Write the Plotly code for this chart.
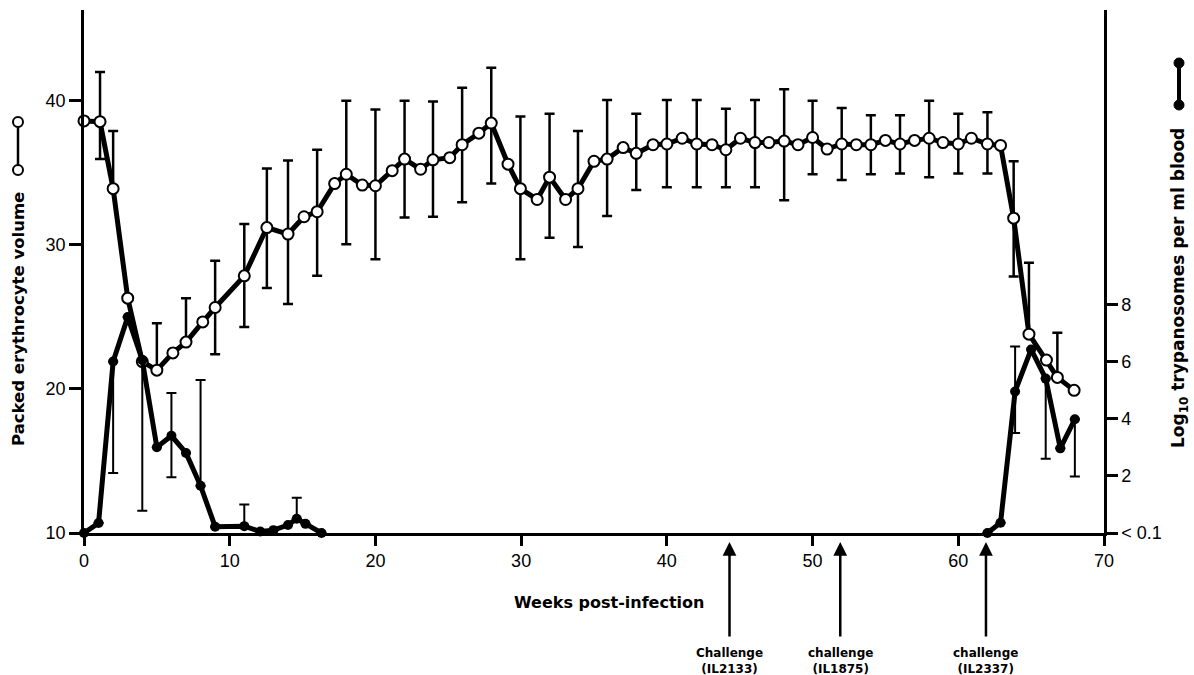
import plotly.graph_objects as go

# ---------------- data ----------------
weeks_pcv = [0.0, 1.1, 2.0, 3.0, 4.0, 5.0, 6.1, 7.0, 8.15, 9.0, 11.0, 12.55, 14.0, 15.1, 16.0,
             17.2, 18.0, 19.1, 20.0, 21.15, 22.0, 23.1, 23.95, 25.1, 25.95, 27.1, 27.95, 29.1,
             29.95, 31.1, 31.95, 33.05, 33.9, 35.0, 35.9, 37.0, 37.9, 39.05, 40.0, 41.05, 42.05,
             43.1, 44.05, 45.05, 46.05, 47.0, 48.05, 49.0, 50.0, 51.0, 52.0, 53.0, 54.0, 55.0,
             56.0, 57.0, 58.0, 58.95, 60.0, 60.9, 62.0, 62.9, 63.8, 64.85, 66.05, 66.8, 67.95]
pcv = [38.6, 38.55, 33.9, 26.3, 21.9, 21.3, 22.5, 23.25, 24.65, 25.65, 27.85, 31.2, 30.75, 31.95, 32.3,
       34.25, 34.9, 34.15, 34.1, 35.15, 35.95, 35.25, 35.9, 36.05, 36.95, 37.75, 38.45, 35.6,
       33.9, 33.15, 34.7, 33.15, 33.9, 35.8, 35.95, 36.75, 36.35, 36.95, 37.0, 37.4, 37.0,
       36.95, 36.6, 37.4, 37.1, 37.1, 37.2, 36.95, 37.45, 36.65, 37.0, 36.95, 36.95, 37.25,
       37.0, 37.25, 37.4, 37.1, 37.0, 37.4, 37.0, 36.9, 31.85, 23.8, 22.0, 20.8, 19.9]
pcv_err_plus = [0, 3.45, 4.0, 0, 0, 3.25, 0, 3.05, 0, 3.25, 3.6, 4.1, 5.1, 0, 4.3,
                0, 5.1, 0, 5.3, 0, 4.05, 0, 4.05, 0, 3.95, 0, 3.85, 0,
                5.0, 0, 4.4, 0, 4.0, 0, 4.1, 0, 2.75, 0, 3.05, 0, 3.05,
                0, 2.85, 0, 2.95, 0, 3.6, 0, 2.55, 0, 2.5, 0, 2.05, 0,
                2.0, 0, 2.6, 0, 2.1, 0, 2.2, 0, 3.95, 4.95, 0, 3.1, 0]
pcv_err_minus = [0, 2.6, 0, 0, 0, 0, 0, 0, 0, 3.25, 3.55, 4.2, 4.85, 0, 4.45,
                 0, 4.85, 0, 5.1, 0, 4.05, 0, 3.95, 0, 4.0, 0, 4.2, 0,
                 4.9, 0, 4.2, 0, 4.05, 0, 3.95, 0, 2.55, 0, 3.0, 0, 3.0,
                 0, 2.6, 0, 3.1, 0, 4.1, 0, 2.55, 0, 2.5, 0, 2.05, 0,
                 2.05, 0, 2.7, 0, 2.05, 0, 2.05, 0, 4.05, 0, 0, 0, 0]

weeks_tryp = [0, 1, 2, 3, 4, 5, 6, 7, 8, 9, 11, 12.1, 13, 14, 14.6, 15.2, 16.3, None,
              62, 62.9, 63.9, 65, 66, 67, 68]
tryp = [0, 0.35, 6.0, 7.55, 6.05, 3.0, 3.4, 2.8, 1.65, 0.22, 0.24, 0.05, 0.1, 0.28, 0.5, 0.32, 0, None,
        0, 0.36, 4.95, 6.42, 5.4, 2.96, 3.98]
tryp_err_plus = [0, 0, 0, 0, 0, 0, 1.5, 0, 3.7, 0, 0.76, 0, 0, 0, 0.73, 0, 0, 0,
                 0, 0, 1.57, 0, 0, 0, 0]
tryp_err_minus = [0, 0, 3.9, 0, 5.27, 0, 1.45, 0, 0, 0, 0, 0, 0, 0, 0, 0, 0, 0,
                  0, 0, 1.45, 0, 2.8, 0, 2.0]

x_ticks = [0, 10, 20, 30, 40, 50, 60, 70]
pcv_ticks = [10, 20, 30, 40]
tryp_ticks = [0, 2, 4, 6, 8]
tryp_ticktext = ["< 0.1", "2", "4", "6", "8"]

challenge_weeks = [44.3, 51.9, 61.9]
challenge_labels = ["Challenge<br>(IL2133)", "challenge<br>(IL1875)", "challenge<br>(IL2337)"]

# ---------------- figure ----------------
FONT = "Liberation Sans"
BFONT = "DejaVu Sans"
L, R, T, B = 84, 90, 10, 142
W, H = 1194, 675
PW, PH = W - L - R, H - T - B


def px2x(px):
    return (px - L) / PW


def py2y(py):
    return (H - B - py) / PH


fig = go.Figure()

fig.add_trace(go.Scatter(
    x=weeks_pcv, y=pcv, mode="lines+markers", yaxis="y",
    line=dict(color="black", width=5),
    marker=dict(symbol="circle", size=11, color="white", line=dict(color="black", width=2)),
    error_y=dict(type="data", symmetric=False, array=pcv_err_plus, arrayminus=pcv_err_minus,
                 color="black", thickness=2.5, width=5),
    cliponaxis=False, showlegend=False, hoverinfo="x+y"))

fig.add_trace(go.Scatter(
    x=weeks_tryp, y=tryp, mode="lines+markers", yaxis="y2",
    line=dict(color="black", width=5),
    marker=dict(symbol="circle", size=10, color="black"),
    error_y=dict(type="data", symmetric=False, array=tryp_err_plus, arrayminus=tryp_err_minus,
                 color="black", thickness=2, width=5),
    connectgaps=False, cliponaxis=False, showlegend=False, hoverinfo="x+y"))

axis_common = dict(showline=True, linecolor="black", linewidth=2.5, showgrid=False, zeroline=False,
                   ticks="outside", tickcolor="black", tickwidth=2.5,
                   tickfont=dict(family=FONT, size=18, color="black"))

fig.update_layout(
    width=W, height=H,
    margin=dict(l=L, r=R, t=T, b=B, pad=0),
    paper_bgcolor="white", plot_bgcolor="white",
    xaxis=dict(range=[0, 70], tickvals=x_ticks, ticklen=10, **axis_common),
    yaxis=dict(range=[10, 46.3], tickvals=pcv_ticks, ticklen=12, **axis_common),
    yaxis2=dict(range=[0, 18.29], tickvals=tryp_ticks, ticktext=tryp_ticktext, ticklen=11,
                overlaying="y", side="right", **axis_common),
)

annotations = [
    dict(text="Weeks post-infection", xref="paper", yref="paper", x=px2x(609), y=py2y(602),
         xanchor="center", yanchor="middle", showarrow=False,
         font=dict(family=BFONT, size=16, color="black", weight="bold")),
    dict(text="Packed erythrocyte volume", xref="paper", yref="paper", x=px2x(18), y=py2y(319),
         xanchor="center", yanchor="middle", textangle=-90, showarrow=False,
         font=dict(family=BFONT, size=16.5, color="black", weight="bold")),
    dict(text="Log<sub>10</sub> trypanosomes per ml blood", xref="paper", yref="paper",
         x=px2x(1180), y=py2y(288), xanchor="center", yanchor="middle", textangle=-90,
         showarrow=False, font=dict(family=BFONT, size=17, color="black", weight="bold")),
]

for wk, lab in zip(challenge_weeks, challenge_labels):
    annotations.append(dict(text="", xref="x", yref="paper", x=wk, y=py2y(542),
                            ax=0, ay=96, axref="pixel", ayref="pixel", showarrow=True,
                            arrowhead=2, arrowsize=1.1, arrowwidth=2.5, arrowcolor="black"))
    annotations.append(dict(text=lab, xref="x", yref="paper", x=wk, y=py2y(661),
                            xanchor="center", yanchor="middle", showarrow=False,
                            font=dict(family=BFONT, size=12, color="black", weight="bold")))

fig.update_layout(annotations=annotations)

# legend symbols beside the axis titles
shapes = []
lx, rx = px2x(18), px2x(1179)
shapes.append(dict(type="line", xref="paper", yref="paper", x0=lx, x1=lx, y0=py2y(122), y1=py2y(170),
                   line=dict(color="black", width=2.5)))
for py in (122, 170):
    shapes.append(dict(type="circle", xref="paper", yref="paper", xsizemode="pixel", ysizemode="pixel",
                       xanchor=lx, yanchor=py2y(py), x0=-5, x1=5, y0=-5, y1=5,
                       fillcolor="white", line=dict(color="black", width=2)))
shapes.append(dict(type="line", xref="paper", yref="paper", x0=rx, x1=rx, y0=py2y(63), y1=py2y(105),
                   line=dict(color="black", width=4)))
for py in (63, 105):
    shapes.append(dict(type="circle", xref="paper", yref="paper", xsizemode="pixel", ysizemode="pixel",
                       xanchor=rx, yanchor=py2y(py), x0=-5, x1=5, y0=-5, y1=5,
                       fillcolor="black", line=dict(color="black", width=1)))
fig.update_layout(shapes=shapes)

fig.write_html("out.html", config={"displayModeBar": False},
               post_script="document.body.style.margin='0';document.body.style.overflow='hidden';")
